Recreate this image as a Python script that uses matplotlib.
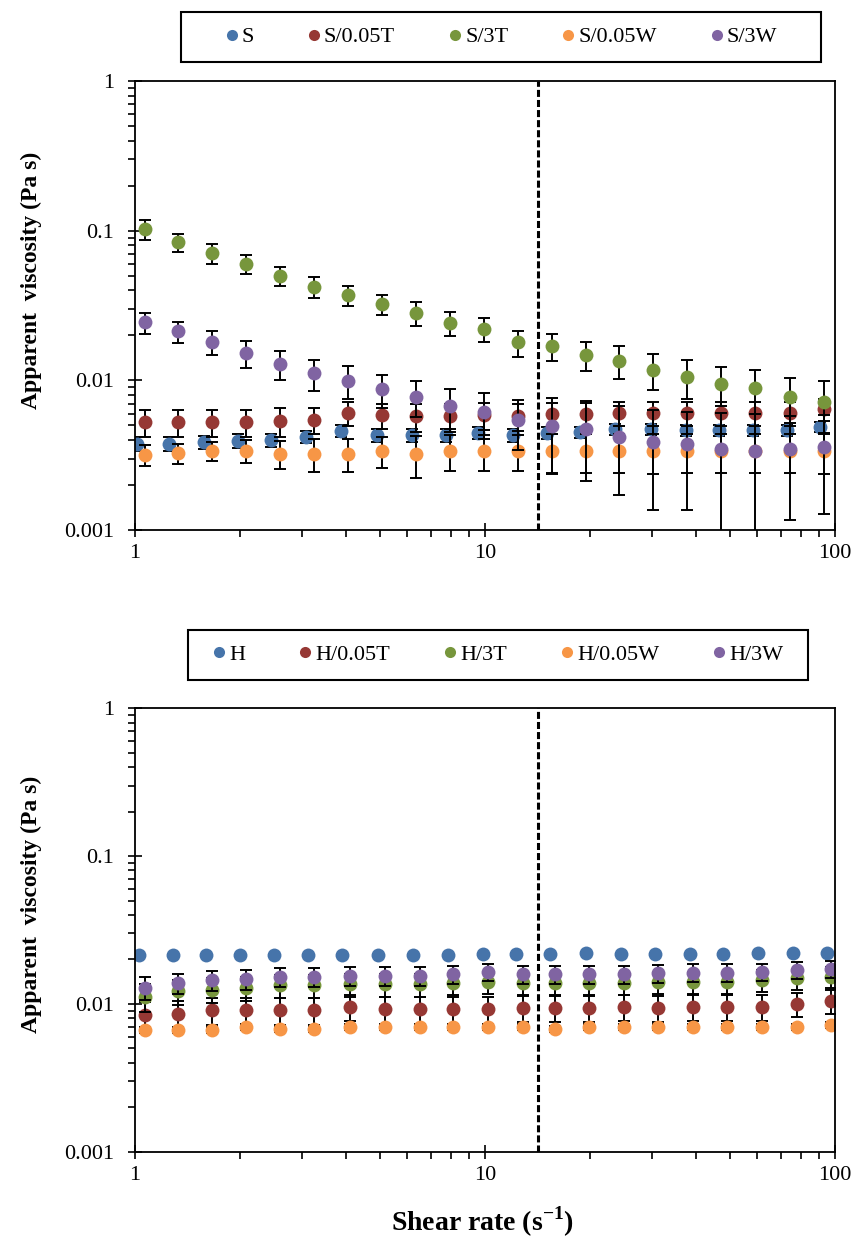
import matplotlib
matplotlib.use('Agg')
import matplotlib.pyplot as plt
from matplotlib.lines import Line2D
from matplotlib.patches import Rectangle

plt.rcParams['font.family'] = ['Liberation Serif', 'DejaVu Serif']
plt.rcParams['mathtext.fontset'] = 'custom'
plt.rcParams['mathtext.rm'] = 'Liberation Serif'
plt.rcParams['mathtext.bf'] = 'Liberation Serif:bold'

# ---------------- data: top panel (S series) ----------------
x_top_S = [1.01, 1.25, 1.57, 1.97, 2.45, 3.08, 3.88, 4.92, 6.19, 7.74, 9.55,
           12.0, 15.0, 18.7, 23.5, 29.8, 37.5, 46.6, 58.3, 72.9, 90.6]
x_top_mod = [1.07, 1.33, 1.66, 2.08, 2.60, 3.25, 4.06, 5.08, 6.35, 7.94, 9.93,
             12.4, 15.5, 19.4, 24.2, 30.2, 37.8, 47.2, 59.1, 74.4, 93.0]

top_labels = ['S', 'S/0.05T', 'S/3T', 'S/0.05W', 'S/3W']

S_vals = [0.00376, 0.00376, 0.00386, 0.00395, 0.0040, 0.00421, 0.0046, 0.0043, 0.0043,
          0.0043, 0.00445, 0.0043, 0.00445, 0.0045, 0.0047, 0.0047, 0.00465, 0.00465,
          0.00465, 0.00465, 0.0049]
S_err = [0.0004] * 21

S005T_vals = [0.00525, 0.00525, 0.00525, 0.00525, 0.00536, 0.00545, 0.00609, 0.00585,
              0.00575, 0.00575, 0.00585, 0.0058, 0.00594, 0.00594, 0.00609, 0.00609,
              0.00609, 0.00609, 0.00609, 0.00609, 0.00641]
S005T_err = [0.0011, 0.0011, 0.0011, 0.0011, 0.0012, 0.0011, 0.0011, 0.0011, 0.0012,
             0.0012, 0.0012, 0.0012, 0.0011, 0.0011, 0.0011, 0.0011, 0.0011, 0.0011,
             0.0011, 0.0011, 0.0011]

S3T_vals = [0.102, 0.0837, 0.0706, 0.0597, 0.050, 0.0423, 0.037, 0.0322, 0.0281, 0.0243,
            0.0219, 0.0179, 0.0170, 0.0148, 0.01355, 0.0118, 0.0106, 0.0095, 0.0089,
            0.00775, 0.00714]
S3T_err = [0.015, 0.012, 0.0104, 0.0086, 0.0075, 0.007, 0.0058, 0.005, 0.0051, 0.0045,
           0.004, 0.0035, 0.0035, 0.0032, 0.0034, 0.0032, 0.0031, 0.0028, 0.0029,
           0.0026, 0.0027]

S005W_vals = [0.00318, 0.00328, 0.00339, 0.00339, 0.00324, 0.00324, 0.00324, 0.00339,
              0.00324, 0.00339, 0.00339, 0.00339, 0.00339, 0.00339, 0.00339, 0.00335,
              0.00339, 0.00339, 0.00339, 0.00339, 0.00335]
S005W_err = [0.0005, 0.0005, 0.0005, 0.0006, 0.0007, 0.0008, 0.0008, 0.0008, 0.001,
             0.0009, 0.0009, 0.0009, 0.001, 0.001, 0.001, 0.001, 0.001, 0.001, 0.001,
             0.001, 0.001]

S3W_vals = [0.0244, 0.0212, 0.018, 0.0152, 0.0129, 0.01115, 0.00995, 0.00872, 0.00778,
            0.00675, 0.00618, 0.00544, 0.00498, 0.00471, 0.00421, 0.00386, 0.00376,
            0.00347, 0.00338, 0.00347, 0.00357]
S3W_err = [0.0039, 0.0034, 0.0033, 0.0032, 0.0029, 0.0026, 0.0025, 0.0022, 0.0021, 0.002,
           0.0021, 0.002, 0.0026, 0.0026, 0.0025, 0.0025, 0.0024, 0.0026, 0.0026,
           0.0023, 0.0023]

# ---------------- data: bottom panel (H series) ----------------
x_bot_H = [1.03, 1.28, 1.60, 2.00, 2.50, 3.12, 3.90, 4.95, 6.23, 7.84, 9.87,
           12.3, 15.3, 19.4, 24.5, 30.6, 38.5, 47.9, 60.3, 75.9, 94.9]
x_bot_mod = [1.07, 1.33, 1.66, 2.08, 2.60, 3.25, 4.12, 5.18, 6.52, 8.10, 10.2,
             12.8, 15.9, 19.8, 25.0, 31.2, 39.3, 49.2, 61.9, 77.9, 97.4]

bot_labels = ['H', 'H/0.05T', 'H/3T', 'H/0.05W', 'H/3W']

H_vals = [0.0214, 0.0214, 0.0214, 0.0214, 0.0214, 0.0214, 0.0214, 0.0214, 0.0214, 0.0214,
          0.0218, 0.0218, 0.0218, 0.0222, 0.0218, 0.0218, 0.0218, 0.0218, 0.0222, 0.0222,
          0.0222]
H_err = [0.0004] * 21

H005T_vals = [0.0084, 0.0086, 0.0091, 0.0091, 0.0091, 0.0091, 0.0096, 0.0092, 0.0092,
              0.0092, 0.0092, 0.0094, 0.0094, 0.0094, 0.0096, 0.0094, 0.0096, 0.0096,
              0.0096, 0.0100, 0.0105]
H005T_err = [0.0019] * 21

H3T_vals = [0.0112, 0.0122, 0.0125, 0.0129, 0.0134, 0.0134, 0.0136, 0.0136, 0.0136, 0.0138,
            0.0140, 0.0138, 0.0138, 0.0138, 0.0138, 0.0141, 0.0141, 0.0141, 0.0145, 0.0149,
            0.0153]
H3T_err = [0.0024] * 21

H005W_vals = [0.0067, 0.0067, 0.0067, 0.0070, 0.0068, 0.0068, 0.0070, 0.0070, 0.0070,
              0.0070, 0.0070, 0.0070, 0.0068, 0.0070, 0.0070, 0.0070, 0.0070, 0.0070,
              0.0070, 0.0070, 0.0072]
H005W_err = [0.0003] * 21

H3W_vals = [0.0129, 0.0138, 0.0145, 0.0147, 0.0153, 0.0153, 0.0155, 0.0155, 0.0155, 0.0159,
            0.0164, 0.0159, 0.0159, 0.0159, 0.0159, 0.0161, 0.0163, 0.0163, 0.0165, 0.0170,
            0.0172]
H3W_err = [0.0022] * 21

critical_rate = 14.2

colors = ['#4674AA', '#963834', '#77963C', '#F79646', '#8064A2']

y_ticks = [0.001, 0.01, 0.1, 1]
y_ticklabels = ['0.001', '0.01', '0.1', '1']
x_ticks = [1, 10, 100]
x_ticklabels = ['1', '10', '100']

W, H = 854, 1243
fig = plt.figure(figsize=(W / 100, H / 100), dpi=100)
ax1 = fig.add_axes([135 / W, 1 - 530 / H, 700 / W, 449 / H])
ax2 = fig.add_axes([135 / W, 1 - 1151.7 / H, 700 / W, 443.4 / H])


def draw_panel(ax, xs, ys, errs):
    for i, (x, y, e, c) in enumerate(zip(xs, ys, errs, colors)):
        ax.errorbar(x, y, yerr=e, fmt='none', ecolor='black', elinewidth=1.4,
                    capsize=4.5, capthick=1.4, zorder=3 + 2 * i)
        ax.plot(x, y, 'o', ms=10, mfc=c, mec='none', zorder=4 + 2 * i)
    ax.axvline(critical_rate, color='black', lw=2.2, linestyle=(0, (2.3, 1.0)),
               zorder=20)
    ax.set_xscale('log')
    ax.set_yscale('log')
    ax.set_xlim(1, 100)
    ax.set_ylim(0.001, 1)
    ax.set_xticks(x_ticks, x_ticklabels)
    ax.set_yticks(y_ticks, y_ticklabels)
    ax.tick_params(which='major', direction='inout', length=10, width=1.2,
                   labelsize=16, top=False, right=False)
    ax.tick_params(which='minor', direction='out', length=5, width=1.2,
                   top=False, right=False)
    ax.tick_params(axis='y', which='major', pad=10)
    ax.tick_params(axis='x', which='major', pad=5)
    for sp in ax.spines.values():
        sp.set_linewidth(1.3)
        sp.set_zorder(25)
    ax.set_ylabel('Apparent  viscosity (Pa s)', fontsize=17, fontweight='bold')
    ax.yaxis.set_label_coords(-0.133, 0.557)


draw_panel(ax1, [x_top_S] + [x_top_mod] * 4,
           [S_vals, S005T_vals, S3T_vals, S005W_vals, S3W_vals],
           [S_err, S005T_err, S3T_err, S005W_err, S3W_err])
draw_panel(ax2, [x_bot_H] + [x_bot_mod] * 4,
           [H_vals, H005T_vals, H3T_vals, H005W_vals, H3W_vals],
           [H_err, H005T_err, H3T_err, H005W_err, H3W_err])

ax2.set_xlabel(r'Shear rate (s$^{\mathbf{-1}}$)', fontsize=20, fontweight='bold')
ax2.xaxis.set_label_coords(0.496, -0.158)
ax2.xaxis.label.set_va('center')


def add_legend(labels, box):
    x0, y0, x1, y1 = box
    fig.patches.append(Rectangle((x0 / W, 1 - y1 / H), (x1 - x0) / W, (y1 - y0) / H,
                                 transform=fig.transFigure, fill=False,
                                 ec='black', lw=1.5))
    handles = [Line2D([], [], marker='o', ls='none', ms=8, mfc=c, mec='none')
               for c in colors]
    fig.legend(handles, labels, ncol=5, loc='center',
               bbox_to_anchor=((x0 + x1) / 2 / W, 1 - (y0 + y1) / 2 / H),
               frameon=False, fontsize=16, handlelength=0.6, handletextpad=0.15,
               columnspacing=2.4, borderpad=0.2)


add_legend(top_labels, (181, 12, 821, 62))
add_legend(bot_labels, (188, 630, 808, 680))

fig.savefig('out.png', dpi=100)
